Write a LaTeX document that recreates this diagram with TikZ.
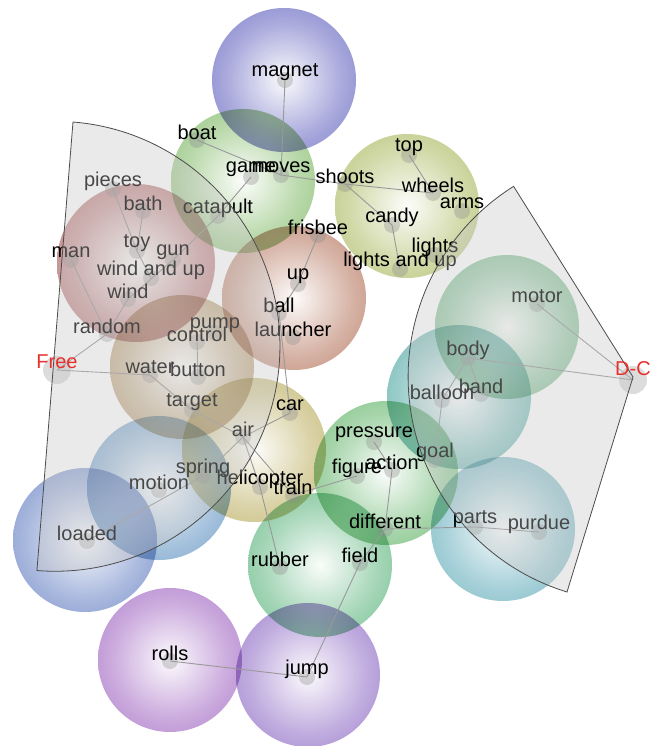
\documentclass[tikz,border=0pt]{standalone}
\usepackage{fontspec}
\setmainfont{Liberation Sans}
\usepackage{xcolor}
\usepackage{tikz}
\definecolor{topicmagnet}{HTML}{8E8ED2}
\definecolor{topicgame}{HTML}{A2CC8E}
\definecolor{topicwheels}{HTML}{C3CD8C}
\definecolor{topictoy}{HTML}{C28888}
\definecolor{topicball}{HTML}{C99A88}
\definecolor{topicwater}{HTML}{C3AB87}
\definecolor{topicmotor}{HTML}{8DC59E}
\definecolor{topicbody}{HTML}{80C0BE}
\definecolor{topicair}{HTML}{CEC48A}
\definecolor{topicmotion}{HTML}{8BB0D3}
\definecolor{topicloaded}{HTML}{8FA3D4}
\definecolor{topicaction}{HTML}{8DC992}
\definecolor{topicfield}{HTML}{88C9A0}
\definecolor{topicparts}{HTML}{8DC3CE}
\definecolor{topicrolls}{HTML}{BB90D3}
\definecolor{topicjump}{HTML}{AD93D5}
\definecolor{facetred}{HTML}{E8302C}
\makeatletter
\pgfdeclareradialshading[tikz@ball]{bubble}{\pgfpoint{0bp}{0bp}}{%
  color(0bp)=(tikz@ball!4!white); color(10bp)=(tikz@ball!45!white);
  color(20bp)=(tikz@ball!85!white); color(25bp)=(tikz@ball); color(50bp)=(tikz@ball)}
\makeatother

\begin{document}
\begin{tikzpicture}[x=1pt, y=-1pt,
  bubble/.style={ball color=#1, shading=bubble, opacity=0.88, blend mode=multiply},
  dot/.style={circle, fill=black!45, fill opacity=0.35, inner sep=0pt, minimum size=16pt},
  hubdot/.style={dot, minimum size=28pt, fill opacity=0.3},
  word/.style={font=\fontsize{20}{22}\selectfont, text=black, inner sep=0pt},
  hubword/.style={word, text=facetred},
  link/.style={draw=black!40, line width=0.9pt},
  fan/.style={fill=black!22, fill opacity=0.36, draw=black!70, line width=0.8pt}]
  \fill[white] (0,0) rectangle (662,746);
  \useasboundingbox (0,0) rectangle (662,746);

  % topic bubbles
  \foreach \cx/\cy/\r/\c in {284/80/72/topicmagnet, 243/181/72/topicgame, 407/206/72/topicwheels,
      136/263/79/topictoy, 294/298/72/topicball, 182/367/72/topicwater, 507/327/72/topicmotor,
      459/397/72/topicbody, 254/450/72/topicair, 159/488/72/topicmotion, 85/540/72/topicloaded,
      386/473/72/topicaction, 320/565/72/topicfield, 503/529/72/topicparts, 170/660/72/topicrolls,
      308/675/72/topicjump}
    \shade[bubble=\c] (\cx,\cy) circle[radius=\r];

  % terms
  \foreach \n/\x/\y in {magnet/285/80, boat/197/140, game/251/177, moves/281/175, shoots/345/184,
      top/409/155, wheels/433/193, arms/462/211, candy/392/225, pieces/113/189, bath/143/211,
      catapult/218/216, frisbee/318/235, toy/137/251, gun/173/260, man/71/260, windup/151/278,
      lights/435/255, lightsup/400/269, up/298/284, wind/128/299, ball/279/313, random/107/334,
      pump/215/333, control/197/342, launcher/293/337, motor/537/304, body/468/358, water/150/375,
      button/198/377, band/481/394, balloon/442/400, target/192/410, car/290/413, air/243/437,
      pressure/374/442, goal/435/460, figure/357/476, action/392/470, spring/203/476,
      helicopter/260/487, motion/159/490, train/293/495, different/385/529, parts/475/527,
      purdue/539/532, loaded/87/541, rubber/280/567, field/360/563, rolls/170/661, jump/307/677}
    \node[dot] (\n) at (\x,\y) {};
  \node[hubdot] (free) at (57,370) {};
  \node[hubdot] (dc) at (633,380) {};

  % links
  \foreach \a/\b in {magnet/moves, boat/moves, moves/shoots, game/catapult, catapult/gun, gun/wind,
      pieces/toy, bath/toy, toy/windup, wind/random, man/random, random/free, free/water,
      shoots/wheels, shoots/candy, top/wheels, candy/lightsup, frisbee/up, up/ball, ball/car,
      control/button, water/target, target/air, air/car, air/spring, air/helicopter, air/train,
      loaded/spring, helicopter/rubber, train/figure, pressure/action, action/different,
      different/field, field/jump, different/parts, parts/purdue, balloon/goal, balloon/body,
      body/band, body/dc, motor/dc, rolls/jump}
    \draw[link] (\a.center) -- (\b.center);

  % labels
  \foreach \n/\t in {magnet/magnet, boat/boat, game/game, moves/moves, shoots/shoots, top/top,
      wheels/wheels, arms/arms, candy/candy, pieces/pieces, bath/bath, catapult/catapult,
      frisbee/frisbee, toy/toy, gun/gun, man/man, windup/wind and up, lights/lights,
      lightsup/lights and up, up/up, wind/wind, ball/ball, random/random, pump/pump,
      control/control, launcher/launcher, motor/motor, body/body, water/water, button/button,
      band/band, balloon/balloon, target/target, car/car, air/air, pressure/pressure, goal/goal,
      figure/figure, action/action, spring/spring, helicopter/helicopter, motion/motion,
      train/train, different/different, parts/parts, purdue/purdue, loaded/loaded,
      rubber/rubber, field/field, rolls/rolls, jump/jump}
    \node[word] (t-\n) at ([yshift=8pt]\n.center) {\t};

  % facets
  \path[fan] (73,122) arc[start angle=-85.4, end angle=94.6, radius=225] -- cycle;
  \path[fan] (633,377) -- (567,592) arc[start angle=107.1, end angle=237.9, radius=225] -- cycle;
  \node[hubword] (t-free) at ([yshift=8pt]free.center) {Free};
  \node[hubword] (t-dc) at ([yshift=11pt]dc.center) {D-C};
\end{tikzpicture}
\end{document}
